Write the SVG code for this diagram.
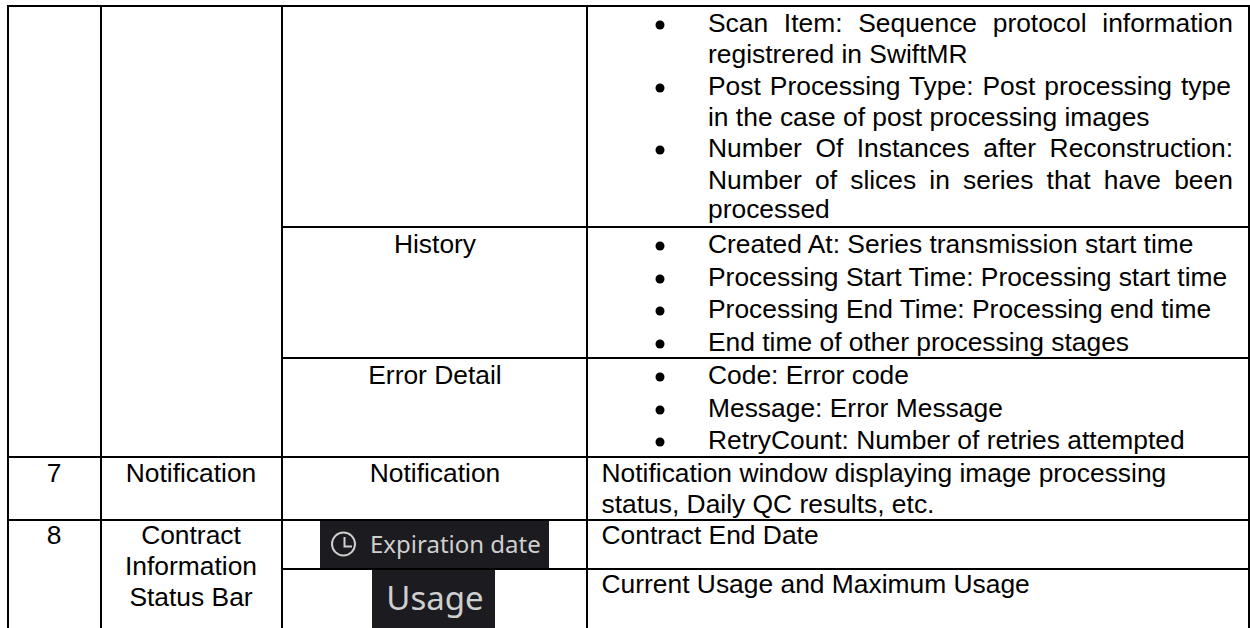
<svg xmlns="http://www.w3.org/2000/svg" width="1250" height="628" viewBox="0 0 1250 628">
<style>
text{font-family:"Liberation Sans",Arial,sans-serif;font-size:26.4px;fill:#000}
.c{text-anchor:middle}
.g{stroke:#000;stroke-width:2;fill:none}
.b{fill:#000}
.d{fill:#1b1b20}
.u{font-family:"Noto Sans","Open Sans",sans-serif;fill:#cfcfcf}
</style>
<rect width="1250" height="628" fill="#fff"/>
<g id="badges">
<rect class="d" x="320" y="519" width="229" height="50"/>
<circle cx="343.5" cy="544" r="11.5" fill="none" stroke="#cfcfcf" stroke-width="2"/>
<path d="M344.5 537V546.500H352" fill="none" stroke="#cfcfcf" stroke-width="2"/>
<text class="u" x="370" y="553" style="font-size:24px">Expiration date</text>
<rect class="d" x="372" y="569" width="123" height="59"/>
<text class="u c" x="435" y="610" style="font-size:33px">Usage</text>
</g>
<g id="grid" class="g">
<path d="M7 6H1250M282 227H1249M282 358H1249M8 457H1249M8 520H1249M282 569H1249"/>
<path d="M8 6V628M101 6V628M282 6V628M587 6V628M1249 6V628"/>
</g>
<g id="col1">
<text class="c" x="54" y="482">7</text>
<text class="c" x="54" y="544">8</text>
</g>
<g id="col2">
<text class="c" x="191" y="482">Notification</text>
<text class="c" x="191" y="544">Contract</text>
<text class="c" x="191" y="575">Information</text>
<text class="c" x="191" y="606">Status Bar</text>
</g>
<g id="col3">
<text class="c" x="435" y="253">History</text>
<text class="c" x="435" y="384">Error Detail</text>
<text class="c" x="435" y="482">Notification</text>
</g>
<g id="col4">
<circle class="b" cx="660" cy="25" r="4.500"/><circle class="b" cx="660" cy="88" r="4.500"/><circle class="b" cx="660" cy="150" r="4.500"/>
<circle class="b" cx="660" cy="246" r="4.500"/><circle class="b" cx="660" cy="279" r="4.500"/><circle class="b" cx="660" cy="311" r="4.500"/><circle class="b" cx="660" cy="344" r="4.500"/>
<circle class="b" cx="660" cy="377" r="4.500"/><circle class="b" cx="660" cy="410" r="4.500"/><circle class="b" cx="660" cy="442" r="4.500"/>
<text x="708" y="32" style="word-spacing:8.35px">Scan Item: Sequence protocol information</text>
<text x="708" y="63">registrered in SwiftMR</text>
<text x="708" y="95" style="word-spacing:1.7px">Post Processing Type: Post processing type</text>
<text x="708" y="126">in the case of post processing images</text>
<text x="708" y="157" style="word-spacing:6.2px">Number Of Instances after Reconstruction:</text>
<text x="708" y="189" style="word-spacing:5.83px">Number of slices in series that have been</text>
<text x="708" y="218">processed</text>
<text x="708" y="253">Created At: Series transmission start time</text>
<text x="708" y="286">Processing Start Time: Processing start time</text>
<text x="708" y="318">Processing End Time: Processing end time</text>
<text x="708" y="351">End time of other processing stages</text>
<text x="708" y="384">Code: Error code</text>
<text x="708" y="417">Message: Error Message</text>
<text x="708" y="449">RetryCount: Number of retries attempted</text>
<text x="601.500" y="482">Notification window displaying image processing</text>
<text x="601.500" y="513">status, Daily QC results, etc.</text>
<text x="601.500" y="544">Contract End Date</text>
<text x="601.500" y="593">Current Usage and Maximum Usage</text>
</g>
</svg>
